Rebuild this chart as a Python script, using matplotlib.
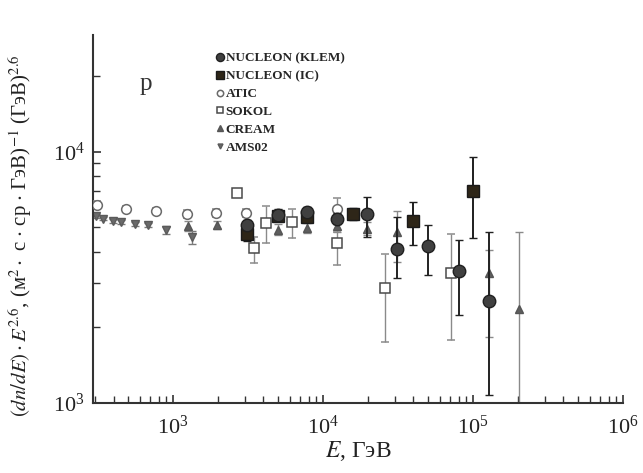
import numpy as np
import matplotlib
matplotlib.use("Agg")
import matplotlib.pyplot as plt
from matplotlib.ticker import LogLocator, NullFormatter

plt.rcParams['font.family'] = ['Liberation Serif', 'DejaVu Serif']
plt.rcParams['mathtext.fontset'] = 'stix'

# NUCLEON (KLEM)
klem_e = [3110, 5010, 7820, 12400, 19650, 31150, 50100, 80700, 128000]
klem_f = [5120, 5610, 5770, 5400, 5660, 4110, 4220, 3360, 2550]
klem_lo = [4900, 5350, 5500, 5150, 4580, 3150, 3240, 2240, 1080]
klem_hi = [5350, 5900, 6050, 5700, 6620, 5510, 5120, 4460, 4800]

# NUCLEON (IC)
ic_e = [3110, 5010, 7820, 15850, 39800, 100000]
ic_f = [4710, 5560, 5500, 5660, 5310, 7000]
ic_lo = [4400, 5300, 5300, 5350, 4260, 4540]
ic_hi = [5000, 5850, 5800, 6000, 6320, 9550]

# ATIC
atic_e = [311, 486, 770, 1240, 1935, 3070, 12400]
atic_f = [6150, 5930, 5820, 5660, 5710, 5710, 5930]
atic_lo = [5950, 5750, 5650, 5450, 5500, 5500, 5400]
atic_hi = [6350, 6100, 6000, 5880, 5920, 5920, 6560]

# SOKOL
sokol_e = [2670, 3470, 4170, 6210, 12400, 25900, 71300]
sokol_f = [6870, 4150, 5210, 5260, 4340, 2870, 3300]
sokol_lo = [6700, 3610, 4340, 4540, 3550, 1750, 1780]
sokol_hi = [7050, 4580, 6090, 5930, 4790, 3930, 4710]

# CREAM
cream_e = [1260, 1960, 5010, 7820, 12400, 19650, 31150, 128000, 203000]
cream_f = [5070, 5120, 4890, 4980, 5070, 4940, 4800, 3300, 2370]
cream_lo = [4850, 4950, 4650, 4750, 4800, 4650, 3650, 1830, 900]
cream_hi = [5300, 5300, 5150, 5200, 5350, 5250, 5800, 4070, 4800]

# AMS02
ams_e = [307, 341, 398, 450, 558, 681, 898, 1340]
ams_f = [5560, 5410, 5310, 5260, 5160, 5120, 4890, 4580]
ams_lo = [5450, 5330, 5230, 5180, 5080, 5040, 4700, 4300]
ams_hi = [5670, 5490, 5390, 5340, 5240, 5200, 5080, 4860]


def yerr(f, lo, hi):
    f = np.array(f, dtype=float)
    return np.vstack([f - np.array(lo), np.array(hi) - f])


fig = plt.figure(figsize=(6.43, 4.73), dpi=100)
ax = fig.add_axes([0.145, 0.148, 0.824, 0.778])

ax.errorbar(ams_e, ams_f, yerr=yerr(ams_f, ams_lo, ams_hi), fmt='v', ms=5.5,
            color='#6a6a6a', mec='#5a5a5a', ecolor='#7a7a7a', elinewidth=1,
            capsize=3, label='AMS02', zorder=2)
ax.errorbar(cream_e, cream_f, yerr=yerr(cream_f, cream_lo, cream_hi), fmt='^', ms=6,
            color='#5e5e5e', mec='#555555', ecolor='#8a8a8a', elinewidth=1,
            capsize=3, label='CREAM', zorder=2)
ax.errorbar(atic_e, atic_f, yerr=yerr(atic_f, atic_lo, atic_hi), fmt='o', ms=7,
            mfc='white', mec='#6a6a6a', mew=1.1, ecolor='#8a8a8a', elinewidth=1,
            capsize=3, label='ATIC', zorder=3)
ax.errorbar(sokol_e, sokol_f, yerr=yerr(sokol_f, sokol_lo, sokol_hi), fmt='s', ms=6.5,
            mfc='white', mec='#4a4a4a', mew=1.1, ecolor='#8a8a8a', elinewidth=1,
            capsize=3, label='SOKOL', zorder=3)
ax.errorbar(ic_e, ic_f, yerr=yerr(ic_f, ic_lo, ic_hi), fmt='s', ms=8,
            color='#2e2618', mec='#1a1a1a', ecolor='#1e1e1e', elinewidth=1.4,
            capsize=3, label='NUCLEON (IC)', zorder=4)
ax.errorbar(klem_e, klem_f, yerr=yerr(klem_f, klem_lo, klem_hi), fmt='o', ms=9,
            color='#404040', mec='#202020', ecolor='#222222', elinewidth=1.4,
            capsize=3, label='NUCLEON (KLEM)', zorder=5)

ax.set_xscale('log')
ax.set_yscale('log')
ax.set_xlim(293, 1e6)
ax.set_ylim(1000, 29200)

ax.xaxis.set_minor_locator(LogLocator(base=10, subs=np.arange(2, 10)))
ax.yaxis.set_minor_locator(LogLocator(base=10, subs=np.arange(2, 10)))
ax.xaxis.set_minor_formatter(NullFormatter())
ax.yaxis.set_minor_formatter(NullFormatter())
ax.tick_params(which='both', direction='in', labelsize=16, color='#333333',
               labelcolor='#222222')
ax.tick_params(which='major', length=6, width=1.2)
ax.tick_params(which='minor', length=5, width=1.0)
ax.tick_params(axis='x', pad=9)
ax.tick_params(axis='y', pad=6)
ax.spines['top'].set_visible(False)
ax.spines['right'].set_visible(False)
for s in ('left', 'bottom'):
    ax.spines[s].set_linewidth(1.5)
    ax.spines[s].set_color('#333333')

ax.set_xlabel(r'$E$, ГэВ', fontsize=17, labelpad=0, color='#222222')
ax.set_ylabel(r'$(dn/dE)\cdot E^{2.6}$, (м$^2 \cdot$ с $\cdot$ ср $\cdot$ ГэВ)$^{-1}$ (ГэВ)$^{2.6}$',
              fontsize=15, color='#222222')
ax.yaxis.set_label_coords(-0.112, 0.455)

ax.text(0.087, 0.85, 'p', transform=ax.transAxes, fontsize=18, color='#333333')

handles, labels = ax.get_legend_handles_labels()
order = [5, 4, 2, 3, 1, 0]
leg = ax.legend([handles[i][0] for i in order], [labels[i] for i in order],
                loc='upper left', bbox_to_anchor=(0.21, 0.985), frameon=False,
                handlelength=0.5, handletextpad=0.2, labelspacing=0.42,
                markerscale=0.65, prop={'family': 'Liberation Serif', 'weight': 'bold', 'size': 9.5})
for t in leg.get_texts():
    t.set_color('#262626')

fig.savefig('out.png', dpi=100)
